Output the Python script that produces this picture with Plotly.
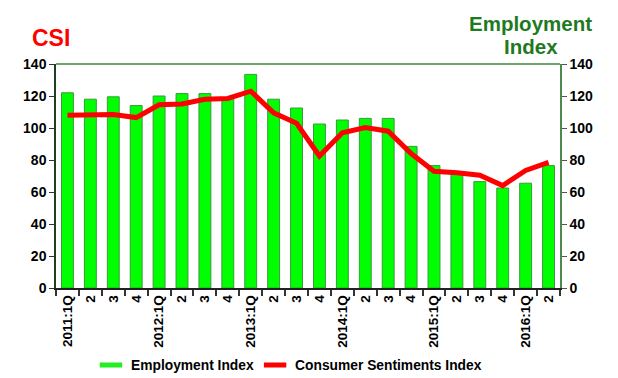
import plotly.graph_objects as go

categories = ["2011:1Q", "2", "3", "4", "2012:1Q", "2", "3", "4", "2013:1Q", "2", "3", "4",
              "2014:1Q", "2", "3", "4", "2015:1Q", "2", "3", "4", "2016:1Q", "2"]
employment = [122, 118, 119.5, 114, 120, 121.5, 121.5, 119, 133.5, 118, 112.5, 102.5,
              105, 106, 106, 88.5, 76.5, 71, 66.5, 62.5, 65.5, 76.5]
csi = [108, 108, 108.5, 106.5, 114.5, 115, 118, 118.5, 123, 109.5, 103, 82.5,
       97, 100.3, 98, 84, 73, 72, 70.5, 64, 73.5, 78.5]

xs = list(range(len(categories)))
fam = "Liberation Sans, Arial"

fig = go.Figure()
fig.add_trace(go.Bar(
    x=xs, y=employment, name="Employment Index", yaxis="y", showlegend=False,
    marker=dict(color="#00FF00", line=dict(color="#3A9A3A", width=1)),
))
fig.add_trace(go.Scatter(
    x=xs, y=csi, name="Consumer Sentiments Index", mode="lines", yaxis="y2",
    showlegend=False, line=dict(color="#FF0000", width=5),
))
# legend-only entries
fig.add_trace(go.Scatter(
    x=[None], y=[None], name="Employment Index", mode="markers", legend="legend",
    marker=dict(symbol="line-ew", size=18, color="#00FF00", line=dict(width=6, color="#22EE22")),
))
fig.add_trace(go.Scatter(
    x=[None], y=[None], name="Consumer Sentiments Index", mode="markers", legend="legend2",
    marker=dict(symbol="line-ew", size=18, color="#FF0000", line=dict(width=5, color="#FF0000")),
))

ytickfont = dict(family=fam, size=14, color="black", weight="bold")
xtickfont = dict(family=fam, size=13.5, color="black", weight="bold")
legfont = dict(family=fam, size=13.8, color="black", weight="bold")

fig.update_layout(
    width=618, height=378,
    margin=dict(l=56, r=58, t=64, b=90, autoexpand=False),
    paper_bgcolor="white", plot_bgcolor="white",
    bargap=0.48,
    showlegend=True,
    legend=dict(orientation="h", x=0.0694, xanchor="left", y=-0.344, yanchor="middle",
                bgcolor="rgba(0,0,0,0)", font=legfont, itemwidth=30, tracegroupgap=0),
    legend2=dict(orientation="h", x=0.395, xanchor="left", y=-0.344, yanchor="middle",
                 bgcolor="rgba(0,0,0,0)", font=legfont, itemwidth=30, tracegroupgap=0),
    xaxis=dict(
        tickmode="array", tickvals=xs, ticktext=categories, tickangle=-90,
        range=[-0.5, len(categories) - 0.5], automargin=False,
        ticks="", ticklen=0,
        minor=dict(tickmode="linear", tick0=-0.5, dtick=1, ticks="outside", ticklen=6,
                   tickcolor="#333333", tickwidth=1.5),
        tickfont=xtickfont, showgrid=False,
        showline=True, linecolor="#222222", linewidth=1.5, mirror=False,
    ),
    yaxis=dict(
        range=[0, 140], dtick=20, ticks="outside", ticklen=5, tickcolor="#333333",
        tickfont=ytickfont, showgrid=False, zeroline=False, automargin=False,
        showline=True, linecolor="#1f3f1f", linewidth=1.5,
    ),
    yaxis2=dict(
        range=[0, 140], dtick=20, ticks="outside", ticklen=5, tickcolor="#555555",
        tickfont=ytickfont, showgrid=False, zeroline=False, overlaying="y", side="right",
        showline=True, linecolor="#4E8A4E", linewidth=1.5, automargin=False,
    ),
    shapes=[dict(type="line", xref="paper", yref="paper", x0=0, x1=1, y0=1, y1=1,
                 line=dict(color="#3A8A3A", width=1.5))],
    annotations=[
        dict(text="CSI", xref="paper", yref="paper", x=-0.0516, y=1.118, xanchor="left",
             yanchor="middle", showarrow=False,
             font=dict(family=fam, size=23, color="#FF0000", weight="bold")),
        dict(text="Employment", xref="paper", yref="paper", x=0.942, y=1.183,
             xanchor="center", yanchor="middle", showarrow=False,
             font=dict(family=fam, size=20.5, color="#1E7A1E", weight="bold")),
        dict(text="Index", xref="paper", yref="paper", x=0.942, y=1.080,
             xanchor="center", yanchor="middle", showarrow=False,
             font=dict(family=fam, size=20.5, color="#1E7A1E", weight="bold")),
    ],
)

fig.write_html("out.html", config={"displayModeBar": False},
               post_script="document.body.style.margin='0';")
